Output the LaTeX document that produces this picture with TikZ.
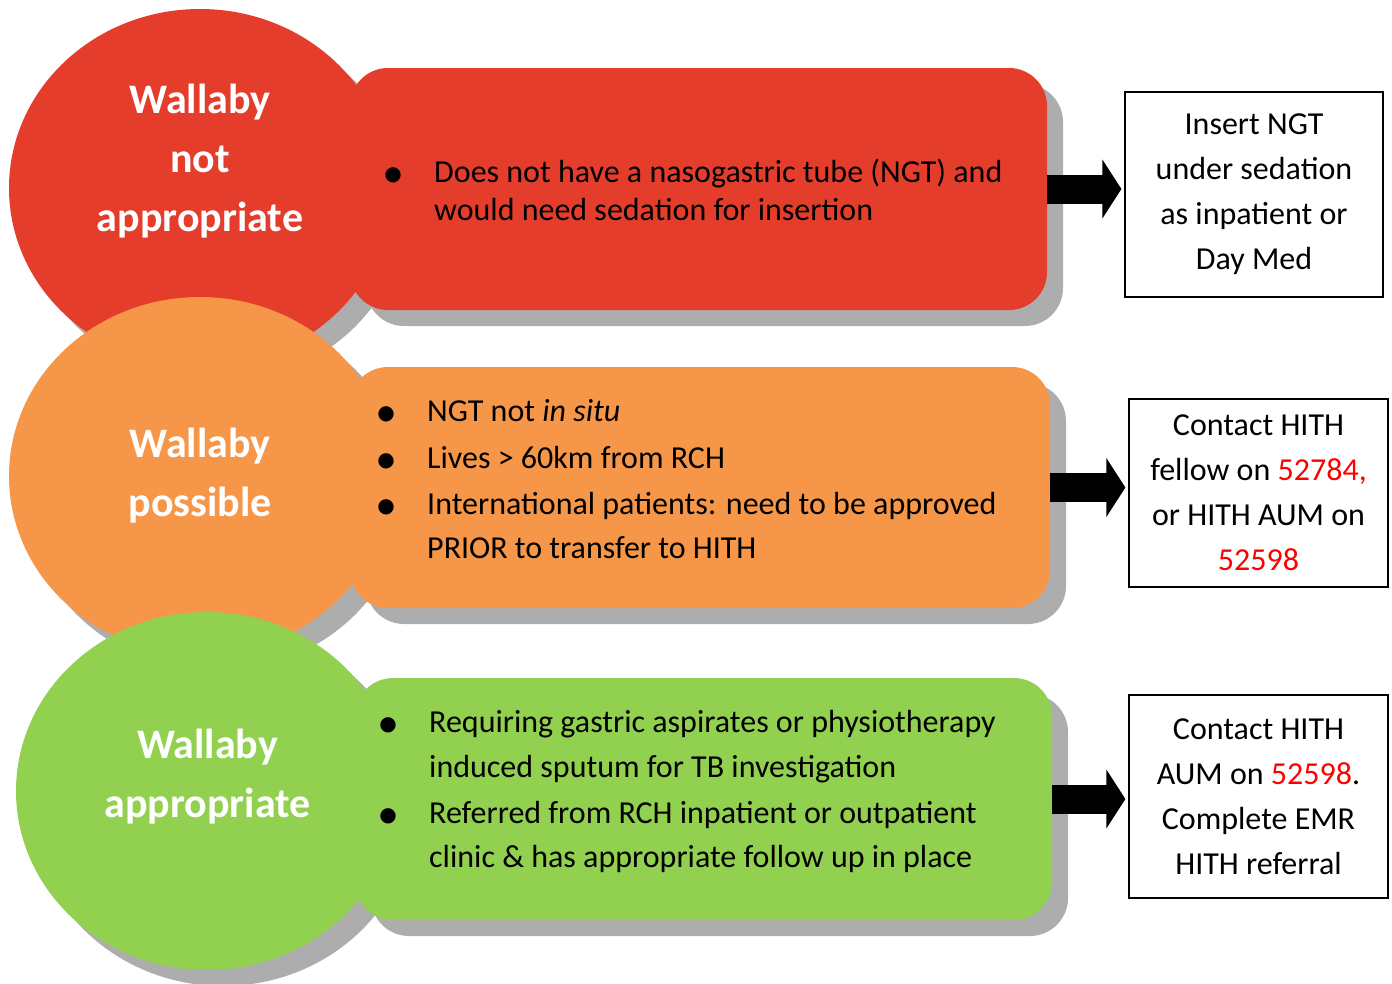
\documentclass[tikz,border=0pt]{standalone}
\usepackage{fontspec}
\setmainfont{Carlito}
\newfontfamily\dejavu{DejaVu Sans}
\usetikzlibrary{shapes.geometric,shadows,arrows.meta}

\definecolor{wred}{HTML}{E43D2B}
\definecolor{worange}{HTML}{F69648}
\definecolor{wgreen}{HTML}{92D050}
\definecolor{wshadow}{HTML}{ADADAD}
\definecolor{phonered}{HTML}{FF0000}

\newcommand{\bul}{\makebox[49bp][l]{\makebox[16bp][c]{\raisebox{2bp}{\dejavu\fontsize{20bp}{20bp}\selectfont ●}}}}
\newcommand{\phone}[1]{\textcolor{phonered}{#1}}

\tikzset{
  greyshadow/.style={drop shadow={shadow xshift=16bp, shadow yshift=-16bp, fill=wshadow, opacity=1}},
  blob/.style={ellipse, fill=#1, minimum width=382bp, minimum height=358bp, inner sep=0pt, greyshadow},
  bar/.style={rectangle, rounded corners=38bp, fill=#1, inner sep=0pt, greyshadow},
  circtitle/.style={text=white, font=\bfseries\fontsize{42bp}{59bp}\selectfont, align=center, inner sep=0pt},
  bullets/.style={anchor=base west, inner sep=0pt, font=\fontsize{32bp}{#1}\selectfont},
  outcome/.style={draw=black, line width=1.2bp, fill=white, align=center, inner sep=0pt, font=\fontsize{32bp}{45bp}\selectfont},
  fatarrow/.style={line width=29bp, -{Triangle[length=19bp,width=58bp]}, shorten >=3bp}
}

\begin{document}
\begin{tikzpicture}[x=1bp, y=-1bp]
\useasboundingbox (0,0) rectangle (1392,983);

% not appropriate
\node[blob=wred] (redcirc) at (200,188) {};
\node[bar=wred, minimum width=697bp, minimum height=242bp] (redbar) at (698.5,189) {};
\node[circtitle] (redtitle) at (200,161) {Wallaby\\not\\appropriate};
\node[bullets=38bp] (redlist) at (385,182) {\begin{tabular}[t]{@{}l@{}l@{}}
\bul & Does not have a nasogastric tube (NGT) and\\
     & would need sedation for insertion
\end{tabular}};

% possible
\node[blob=worange] (orangecirc) at (200,476) {};
\node[bar=worange, minimum width=700bp, minimum height=241bp] (orangebar) at (700,487.5) {};
\node[circtitle] (orangetitle) at (200,475.5) {Wallaby\\possible};
\node[bullets=44bp] (orangelist) at (378,421) {\begin{tabular}[t]{@{}l@{}l@{}}
\bul & NGT not \textit{in situ}\\[3bp]
\bul & Lives > 60km from RCH\\[2bp]
\bul & International patients: need to be approved\\
     & PRIOR to transfer to HITH
\end{tabular}};

% appropriate
\node[blob=wgreen] (greencirc) at (207,791) {};
\node[bar=wgreen, minimum width=697bp, minimum height=242bp] (greenbar) at (703.5,799) {};
\node[circtitle] (greentitle) at (207.5,777) {Wallaby\\appropriate};
\node[bullets=44bp] (greenlist) at (380,732) {\begin{tabular}[t]{@{}l@{}l@{}}
\bul & Requiring gastric aspirates or physiotherapy\\[1bp]
     & induced sputum for TB investigation\\[2bp]
\bul & Referred from RCH inpatient or outpatient\\
     & clinic \& has appropriate follow up in place
\end{tabular}};

% what to do
\node[outcome, minimum width=258bp, minimum height=205bp] (redbox) at (1254,194.5)
  {Insert NGT\\under sedation\\as inpatient or\\Day Med};
\node[outcome, minimum width=259bp, minimum height=188bp] (orangebox) at (1258.5,493)
  {Contact HITH\\fellow on \phone{52784,}\\or HITH AUM on\\\phone{52598}};
\node[outcome, minimum width=259bp, minimum height=203bp] (greenbox) at (1258.5,796.5)
  {Contact HITH\\AUM on \phone{52598}.\\Complete EMR\\HITH referral};

\draw[fatarrow] (redbar.east) -- (redbar.east -| redbox.west);
\draw[fatarrow] (orangebar.east) -- (orangebar.east -| orangebox.west);
\draw[fatarrow] (greenbar.east) -- (greenbar.east -| greenbox.west);
\end{tikzpicture}
\end{document}
